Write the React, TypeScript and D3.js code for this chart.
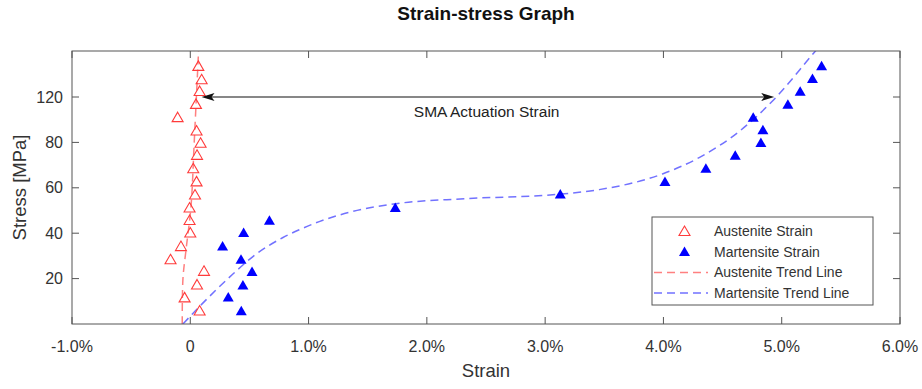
import React from 'react';
import * as d3 from 'd3';

// strain in %, stress in MPa
const austeniteStrain = [0.068, 0.096, 0.079, 0.048, -0.107, 0.053, 0.087, 0.057, 0.025, 0.053, 0.04, -0.006, -0.006, 0.0, -0.079, -0.167, 0.116, 0.057, -0.048, 0.079];
const austeniteStress = [147.0, 135.2, 124.9, 113.5, 101.8, 90.0, 79.6, 74.3, 68.4, 62.6, 56.8, 51.1, 45.6, 40.1, 34.1, 28.3, 23.2, 17.2, 11.5, 5.7];

const martensiteStrain = [0.669, 0.451, 0.273, 0.429, 0.522, 0.445, 0.321, 0.431, 1.733, 3.128, 4.013, 4.359, 4.607, 4.824, 4.841, 4.759, 5.052, 5.156, 5.26, 5.337];
const martensiteStress = [45.5, 40.1, 34.1, 28.3, 22.9, 17.0, 11.7, 5.6, 51.1, 57.0, 62.6, 68.4, 74.1, 79.7, 90.6, 101.8, 113.2, 124.7, 135.8, 147.0];

const austeniteTrendStrain = [-0.068, -0.062, -0.036, 0.006, 0.034, 0.07];
const austeniteTrendStress = [0, 20, 32.7, 51.8, 81.8, 160.4];

const martensiteTrendStrain = [-0.062, 0.076, 0.358, 0.527, 0.78, 0.921, 1.09, 1.344, 1.739, 2.331, 3.128, 3.457, 3.992, 4.306, 4.641, 4.951, 5.275, 5.304];
const martensiteTrendStress = [0, 7.6, 21.9, 29.6, 38.0, 41.5, 45.1, 49.2, 53.0, 55.2, 57.2, 59.2, 66.1, 73.4, 89.7, 119.6, 159.3, 162.8];

const xTicks = [-1, 0, 1, 2, 3, 4, 5, 6];
const yTicks = [20, 40, 60, 80, 120];
const legendLabels = ['Austenite Strain', 'Martensite Strain', 'Austenite Trend Line', 'Martensite Trend Line'];

const arrowStress = 120;
const arrowFrom = 0.095;
const arrowTo = 4.937;
const annotation = 'SMA Actuation Strain';
const annotationStrain = 1.89;

const width = 922;
const height = 389;
const margin = { top: 51, right: 22, bottom: 65, left: 72 };
const font = '"Liberation Sans", Arial, Helvetica, sans-serif';
const red = '#ff3b3b';
const blue = '#0000ff';
const axisColor = '#555';
const textColor = '#333';

const tri = 'M0,-5.5L5.5,4L-5.5,4Z';

export default function App() {
  const w = width - margin.left - margin.right;
  const h = height - margin.top - margin.bottom;

  const xScale = d3.scaleLinear().domain([-1, 6]).range([0, w]);
  // the axis labels are evenly spaced although their values are not
  const yBreaks = [0, ...yTicks];
  const step = 45.4;
  const yScale = d3.scaleLinear().domain(yBreaks).range(yBreaks.map((_, i) => h - i * step));

  const fmt = (d: number) => (d === 0 ? '0' : `${d.toFixed(1)}%`);

  const line = d3.line<[number, number]>()
    .x(d => xScale(d[0]))
    .y(d => yScale(d[1]));

  const austTrend = austeniteTrendStrain.map((s, i) => [s, austeniteTrendStress[i]] as [number, number]);
  const martTrend = martensiteTrendStrain.map((s, i) => [s, martensiteTrendStress[i]] as [number, number]);

  const ay = yScale(arrowStress);
  const ax0 = xScale(arrowFrom);
  const ax1 = xScale(arrowTo);

  const legend = { x: 580, y: 166, w: 221, h: 88, row: 20.5 };

  return (
    <svg width={width} height={height} style={{ position: 'absolute', left: 0, top: 0, background: '#fff' }} fontFamily={font}>
      <text x={margin.left + w / 2} y={20} textAnchor="middle" fontSize={19} fontWeight="bold" fill="#111">Strain-stress Graph</text>
      <defs>
        <clipPath id="plot-clip">
          <rect x={0} y={0} width={w} height={h} />
        </clipPath>
      </defs>
      <g transform={`translate(${margin.left},${margin.top})`}>
        <rect x={0} y={0} width={w} height={h} fill="#fff" />

        {/* ticks, inward on all four sides */}
        {xTicks.map(t => (
          <g key={`x${t}`}>
            <line x1={xScale(t)} x2={xScale(t)} y1={h} y2={h - 7} stroke={axisColor} />
            <line x1={xScale(t)} x2={xScale(t)} y1={0} y2={7} stroke={axisColor} />
            <text x={xScale(t)} y={h + 27.5} textAnchor="middle" fontSize={16} fill={textColor}>{fmt(t)}</text>
          </g>
        ))}
        {yTicks.map(t => (
          <g key={`y${t}`}>
            <line x1={0} x2={7} y1={yScale(t)} y2={yScale(t)} stroke={axisColor} />
            <line x1={w} x2={w - 7} y1={yScale(t)} y2={yScale(t)} stroke={axisColor} />
            <text x={-9} y={yScale(t)} dy="0.35em" textAnchor="end" fontSize={16} fill={textColor}>{t}</text>
          </g>
        ))}

        <g clipPath="url(#plot-clip)">
          <path d={line.curve(d3.curveCatmullRom)(austTrend) || ''} fill="none" stroke="#ff8080" strokeWidth={1.5} strokeDasharray="8,5" />
          <path d={line.curve(d3.curveMonotoneX)(martTrend) || ''} fill="none" stroke="#7272ff" strokeWidth={1.5} strokeDasharray="8,5" />
        </g>

        {austeniteStrain.map((s, i) => (
          <path key={`a${i}`} d={tri} transform={`translate(${xScale(s)},${yScale(austeniteStress[i])})`} fill="none" stroke={red} strokeWidth={1.1} />
        ))}
        {martensiteStrain.map((s, i) => (
          <path key={`m${i}`} d={tri} transform={`translate(${xScale(s)},${yScale(martensiteStress[i])})`} fill={blue} />
        ))}

        {/* double arrow */}
        <line x1={ax0 + 6} x2={ax1 - 6} y1={ay} y2={ay} stroke="#111" strokeWidth={1.2} />
        <path d={`M${ax0},${ay}L${ax0 + 13},${ay - 4}L${ax0 + 10},${ay}L${ax0 + 13},${ay + 4}Z`} fill="#111" />
        <path d={`M${ax1},${ay}L${ax1 - 13},${ay - 4}L${ax1 - 10},${ay}L${ax1 - 13},${ay + 4}Z`} fill="#111" />
        <text x={xScale(annotationStrain)} y={ay + 20} fontSize={15.5} fill="#222">{annotation}</text>

        {/* box */}
        <rect x={0} y={0} width={w} height={h} fill="none" stroke={axisColor} strokeWidth={1} />

        {/* legend */}
        <g transform={`translate(${legend.x},${legend.y})`}>
          <rect x={0} y={0} width={legend.w} height={legend.h} fill="#fff" stroke={axisColor} />
          {legendLabels.map((label, i) => {
            const cy = 14.5 + i * legend.row;
            return (
              <g key={label}>
                {i === 0 && <path d={tri} transform={`translate(32.5,${cy})`} fill="none" stroke={red} strokeWidth={1.1} />}
                {i === 1 && <path d={tri} transform={`translate(32.5,${cy})`} fill={blue} />}
                {i === 2 && <line x1={2} x2={56} y1={cy} y2={cy} stroke="#ff8080" strokeWidth={1.5} strokeDasharray="8,5" />}
                {i === 3 && <line x1={2} x2={56} y1={cy} y2={cy} stroke="#7272ff" strokeWidth={1.5} strokeDasharray="8,5" />}
                <text x={62} y={cy} dy="0.35em" fontSize={14} fill={textColor}>{label}</text>
              </g>
            );
          })}
        </g>

        <text x={w / 2} y={h + 53} textAnchor="middle" fontSize={18.5} fill={textColor}>Strain</text>
        <text transform={`translate(-46,${h / 2 + 0}) rotate(-90)`} textAnchor="middle" fontSize={18.5} fill={textColor}>Stress [MPa]</text>
      </g>
    </svg>
  );
}
